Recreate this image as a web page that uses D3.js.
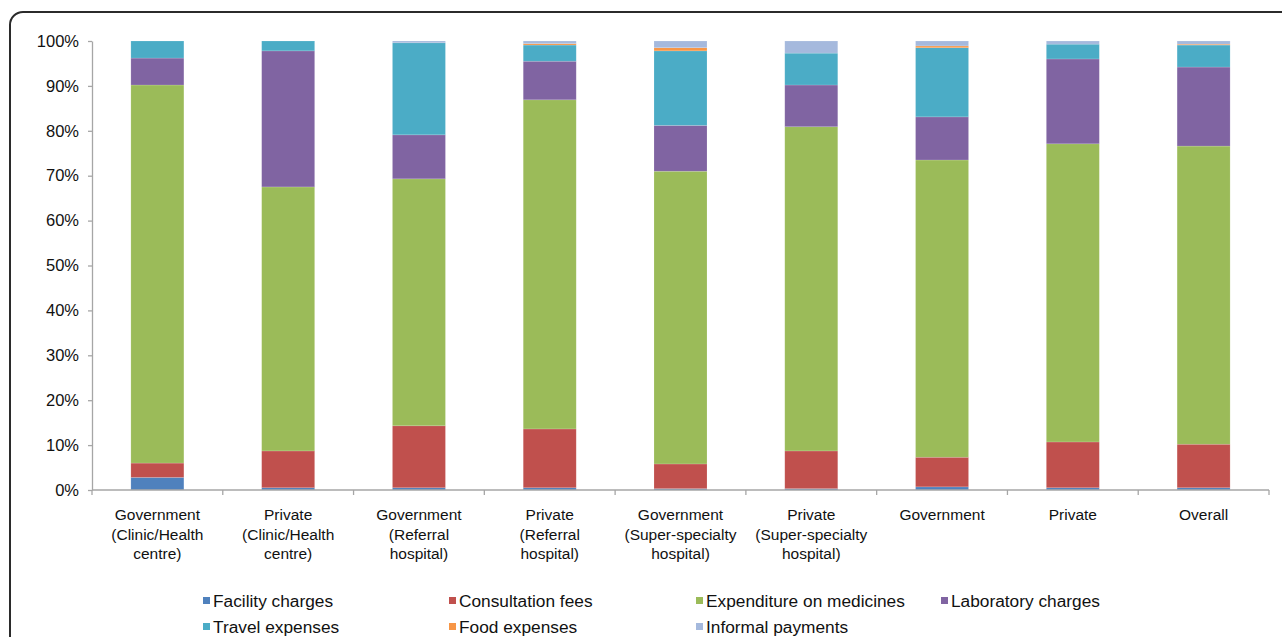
<!DOCTYPE html>
<html>
<head>
<meta charset="utf-8">
<script src="https://cdn.jsdelivr.net/npm/d3@7"></script>
<style>
  body { margin: 0; background: #fff; }
  svg { display: block; font-family: "Liberation Sans", Arial, sans-serif; }
</style>
</head>
<body>
<svg id="chart" width="1282" height="637"></svg>
<script>
// categories (multi-line labels)
const categories = [
  ['Government', '(Clinic/Health', 'centre)'],
  ['Private', '(Clinic/Health', 'centre)'],
  ['Government', '(Referral', 'hospital)'],
  ['Private', '(Referral', 'hospital)'],
  ['Government', '(Super-specialty', 'hospital)'],
  ['Private', '(Super-specialty', 'hospital)'],
  ['Government'],
  ['Private'],
  ['Overall']
];

const seriesNames = ['Facility charges', 'Consultation fees', 'Expenditure on medicines',
  'Laboratory charges', 'Travel expenses', 'Food expenses', 'Informal payments'];
const seriesColors = ['#4f81bd', '#c0504d', '#9bbb59', '#8064a2', '#4bacc6', '#f79646', '#a5b9dd'];

// percentage share per category, one array per series
const facility     = [2.8, 0.5, 0.5, 0.5, 0.3, 0.3, 0.7, 0.5, 0.5];
const consultation = [3.2, 8.2, 13.8, 13.1, 5.5, 8.4, 6.6, 10.2, 9.7];
const medicines    = [84.2, 58.8, 55.0, 73.3, 65.2, 72.2, 66.2, 66.4, 66.4];
const laboratory   = [6.0, 30.3, 9.8, 8.6, 10.2, 9.3, 9.6, 18.9, 17.6];
const travel       = [3.8, 2.2, 20.5, 3.6, 16.6, 7.1, 15.4, 3.3, 4.9];
const food         = [0, 0, 0, 0.3, 0.7, 0, 0.4, 0, 0.2];
const informal     = [0, 0, 0.4, 0.6, 1.5, 2.7, 1.1, 0.7, 0.7];

const yTicks = [0, 10, 20, 30, 40, 50, 60, 70, 80, 90, 100];

const seriesValues = [facility, consultation, medicines, laboratory, travel, food, informal];

const svg = d3.select('#chart');

// outer rounded frame (runs off right/bottom edge)
svg.append('rect').attr('x', 10).attr('y', 12).attr('width', 1300).attr('height', 660)
  .attr('rx', 13).attr('fill', 'none').attr('stroke', '#2b2b2b').attr('stroke-width', 2);

const plotL = 92, plotR = 1269, plotT = 41, plotB = 490;
const barW = 53;

const rows = categories.map((c, i) => {
  const r = { idx: i };
  seriesNames.forEach((s, j) => { r[s] = seriesValues[j][i]; });
  return r;
});

const xb = d3.scaleBand().domain(d3.range(categories.length)).range([plotL, plotR]);
const y = d3.scaleLinear().domain([0, 100]).range([plotB, plotT]);

const stack = d3.stack().keys(seriesNames)(rows);

svg.append('g').selectAll('g').data(stack).join('g')
  .attr('fill', (d, i) => seriesColors[i])
  .selectAll('rect').data(d => d).join('rect')
  .attr('x', d => xb(d.data.idx) + (xb.bandwidth() - barW) / 2)
  .attr('width', barW)
  .attr('y', d => y(d[1]))
  .attr('height', d => Math.max(0, y(d[0]) - y(d[1])))
  .attr('stroke', 'rgba(255,255,255,0.25)').attr('stroke-width', 0.6);

// y axis
const yAxis = svg.append('g').attr('transform', `translate(${plotL},0)`)
  .call(d3.axisLeft(y).tickValues(yTicks).tickFormat(d => d + '%').tickSize(4).tickSizeOuter(0));
yAxis.select('.domain').attr('stroke', '#a6a6a6').attr('stroke-width', 1.3);
yAxis.selectAll('.tick line').attr('stroke', '#a6a6a6').attr('stroke-width', 1.3);
yAxis.selectAll('.tick text').attr('font-size', 16.5).attr('fill', '#111').attr('x', -13)
  .attr('font-family', '"Liberation Sans", Arial, sans-serif');

// x axis line with boundary ticks
const bounds = d3.range(categories.length + 1).map(i => plotL + i * xb.step());
svg.append('line').attr('x1', plotL).attr('x2', plotR).attr('y1', plotB).attr('y2', plotB)
  .attr('stroke', '#a6a6a6').attr('stroke-width', 1.3);
svg.append('g').selectAll('line').data(bounds).join('line')
  .attr('x1', d => d).attr('x2', d => d).attr('y1', plotB).attr('y2', plotB + 5)
  .attr('stroke', '#a6a6a6').attr('stroke-width', 1.3);

// category labels
const catG = svg.append('g').selectAll('text').data(categories).join('text')
  .attr('text-anchor', 'middle').attr('font-size', 15.5).attr('fill', '#111')
  .attr('x', (d, i) => xb(i) + xb.bandwidth() / 2).attr('y', 520);
catG.selectAll('tspan').data(d => d).join('tspan')
  .attr('x', function () { return d3.select(this.parentNode).attr('x'); })
  .attr('dy', (d, i) => i === 0 ? 0 : 19.5)
  .text(d => d);

// legend
const legX = [203, 449, 696, 941];
const legend = svg.append('g').selectAll('g').data(seriesNames).join('g')
  .attr('transform', (d, i) => `translate(${i < 4 ? legX[i] : legX[i - 4]},${i < 4 ? 605 : 631})`);
legend.append('rect').attr('x', 0).attr('y', -8).attr('width', 7).attr('height', 7)
  .attr('fill', (d, i) => seriesColors[i]);
legend.append('text').attr('x', 10).attr('y', 0).attr('dy', '0.1em')
  .attr('font-size', 17.3).attr('fill', '#111').text(d => d);
</script>
</body>
</html>
